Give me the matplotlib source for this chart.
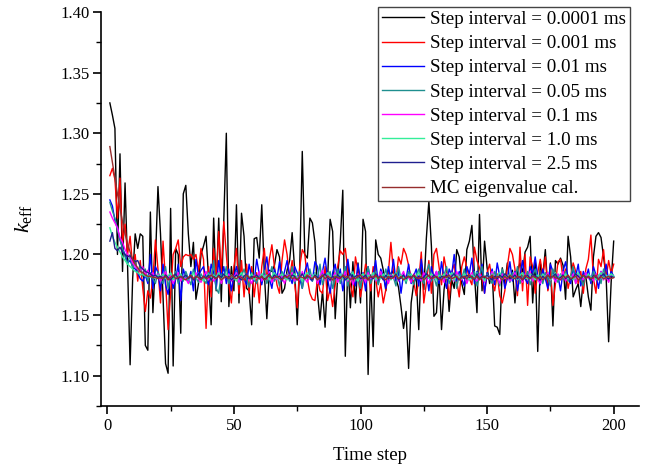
import numpy as np
import matplotlib
matplotlib.use('Agg')
import matplotlib.pyplot as plt
from matplotlib.ticker import MultipleLocator, FormatStrFormatter

plt.rcParams['font.family'] = ['Liberation Serif', 'DejaVu Serif']
plt.rcParams['mathtext.fontset'] = 'custom'
plt.rcParams['mathtext.rm'] = 'Liberation Serif'
plt.rcParams['mathtext.it'] = 'Liberation Serif:italic'

steps = np.arange(1, 201)

# k_eff values, in units of 1e-3
k_0001 = [1325, 1315, 1304, 1200, 1283, 1186, 1259, 1190, 1109, 1180,
          1217, 1205, 1217, 1215, 1125, 1121, 1235, 1152, 1195, 1256,
          1217, 1165, 1110, 1102, 1238, 1108, 1205, 1200, 1135, 1250,
          1257, 1217, 1190, 1210, 1163, 1176, 1200, 1207, 1215, 1180,
          1142, 1230, 1170, 1230, 1161, 1228, 1300, 1157, 1190, 1170,
          1241, 1160, 1234, 1215, 1172, 1170, 1142, 1213, 1214, 1197,
          1241, 1185, 1147, 1187, 1186, 1191, 1204, 1198, 1168, 1172,
          1187, 1195, 1218, 1187, 1142, 1190, 1285, 1200, 1197, 1230,
          1226, 1210, 1168, 1146, 1170, 1140, 1180, 1229, 1219, 1147,
          1182, 1210, 1253, 1116, 1193, 1156, 1194, 1160, 1193, 1160,
          1229, 1219, 1101, 1183, 1124, 1212, 1200, 1197, 1187, 1170,
          1187, 1183, 1187, 1180, 1173, 1157, 1139, 1153, 1106, 1160,
          1176, 1182, 1138, 1193, 1171, 1213, 1244, 1207, 1149, 1152,
          1186, 1138, 1171, 1186, 1153, 1179, 1172, 1204, 1198, 1176,
          1167, 1204, 1211, 1224, 1183, 1152, 1233, 1170, 1211, 1189,
          1176, 1186, 1141, 1140, 1134, 1189, 1176, 1193, 1178, 1187,
          1160, 1186, 1193, 1185, 1202, 1206, 1215, 1160, 1195, 1120,
          1193, 1182, 1204, 1171, 1193, 1141, 1195, 1192, 1197, 1191,
          1163, 1215, 1198, 1165, 1171, 1176, 1157, 1179, 1182, 1165,
          1154, 1198, 1215, 1218, 1214, 1198, 1182, 1128, 1177, 1211]

k_001 = [1265, 1271, 1262, 1230, 1263, 1210, 1225, 1200, 1215, 1190,
         1200, 1178, 1195, 1172, 1153, 1170, 1164, 1180, 1212, 1188,
         1160, 1211, 1178, 1138, 1168, 1200, 1205, 1212, 1190, 1198,
         1200, 1199, 1200, 1196, 1200, 1186, 1205, 1196, 1139, 1190,
         1165, 1205, 1180, 1219, 1185, 1227, 1200, 1175, 1160, 1190,
         1205, 1168, 1195, 1165, 1192, 1168, 1190, 1165, 1185, 1160,
         1190, 1205, 1178, 1196, 1208, 1190, 1175, 1168, 1195, 1212,
         1200, 1180, 1195, 1176, 1156, 1190, 1204, 1200, 1180, 1168,
         1163, 1162, 1180, 1170, 1168, 1190, 1162, 1172, 1157, 1175,
         1190, 1203, 1200, 1205, 1186, 1175, 1165, 1198, 1186, 1165,
         1178, 1192, 1187, 1170, 1190, 1180, 1165, 1176, 1160, 1171,
         1185, 1210, 1186, 1178, 1198, 1192, 1205, 1200, 1191, 1180,
         1178, 1166, 1178, 1202, 1160, 1176, 1195, 1168, 1200, 1205,
         1190, 1175, 1198, 1186, 1163, 1185, 1192, 1178, 1165, 1190,
         1198, 1189, 1180, 1175, 1206, 1195, 1189, 1180, 1168, 1185,
         1192, 1178, 1170, 1184, 1166, 1160, 1170, 1190, 1205, 1200,
         1188, 1166, 1206, 1170, 1200, 1158, 1198, 1190, 1168, 1185,
         1196, 1182, 1198, 1170, 1188, 1158, 1176, 1194, 1196, 1180,
         1188, 1172, 1182, 1193, 1186, 1176, 1186, 1168, 1188, 1196,
         1216, 1180, 1168, 1196, 1190, 1204, 1180, 1195, 1184, 1192]

k_01 = [1245, 1240, 1228, 1222, 1212, 1205, 1200, 1193, 1195, 1190,
        1188, 1185, 1180, 1178, 1183, 1176, 1200, 1172, 1190, 1185,
        1170, 1192, 1175, 1167, 1185, 1172, 1180, 1192, 1162, 1188,
        1181, 1178, 1186, 1170, 1196, 1182, 1187, 1190, 1180, 1175,
        1192, 1185, 1172, 1195, 1180, 1190, 1176, 1188, 1170, 1182,
        1190, 1178, 1185, 1180, 1175, 1192, 1181, 1178, 1196, 1184,
        1175, 1186, 1198, 1180, 1172, 1188, 1180, 1194, 1178, 1186,
        1195, 1182, 1176, 1190, 1185, 1180, 1172, 1186, 1193, 1180,
        1178, 1194, 1190, 1175, 1186, 1197, 1180, 1168, 1185, 1192,
        1178, 1188, 1170, 1182, 1196, 1180, 1186, 1174, 1192, 1180,
        1185, 1170, 1190, 1178, 1183, 1195, 1176, 1188, 1182, 1172,
        1190, 1180, 1196, 1178, 1186, 1168, 1184, 1180, 1192, 1176,
        1182, 1188, 1174, 1196, 1180, 1185, 1170, 1190, 1181, 1186,
        1176, 1194, 1180, 1172, 1188, 1183, 1200, 1178, 1186, 1180,
        1174, 1190, 1184, 1197, 1176, 1186, 1180, 1192, 1168, 1185,
        1180, 1188, 1175, 1193, 1182, 1186, 1172, 1180, 1194, 1178,
        1186, 1170, 1183, 1195, 1180, 1176, 1190, 1184, 1198, 1182,
        1175, 1188, 1180, 1172, 1192, 1186, 1178, 1183, 1170, 1186,
        1194, 1180, 1176, 1188, 1182, 1192, 1174, 1186, 1180, 1188,
        1176, 1190, 1183, 1172, 1186, 1180, 1192, 1178, 1186, 1182]

k_05 = [1243, 1236, 1230, 1220, 1213, 1205, 1198, 1192, 1200, 1188,
        1195, 1186, 1190, 1182, 1188, 1178, 1185, 1180, 1176, 1186,
        1180, 1176, 1190, 1172, 1184, 1180, 1186, 1176, 1182, 1178,
        1186, 1180, 1175, 1188, 1181, 1177, 1184, 1180, 1176, 1185,
        1178, 1195, 1172, 1168, 1184, 1180, 1190, 1176, 1183, 1179,
        1186, 1175, 1182, 1188, 1180, 1173, 1185, 1180, 1176, 1184,
        1180, 1187, 1176, 1182, 1190, 1178, 1183, 1174, 1186, 1180,
        1184, 1178, 1190, 1176, 1182, 1186, 1172, 1183, 1180, 1188,
        1178, 1185, 1180, 1192, 1175, 1183, 1180, 1186, 1172, 1180,
        1188, 1176, 1183, 1190, 1174, 1182, 1186, 1178, 1181, 1172,
        1184, 1180, 1190, 1176, 1182, 1186, 1175, 1183, 1180, 1188,
        1178, 1184, 1181, 1174, 1190, 1180, 1183, 1176, 1186, 1180,
        1175, 1183, 1188, 1180, 1176, 1185, 1192, 1178, 1182, 1174,
        1186, 1180, 1183, 1190, 1176, 1181, 1185, 1172, 1184, 1180,
        1188, 1177, 1183, 1180, 1186, 1174, 1182, 1190, 1178, 1184,
        1180, 1176, 1186, 1181, 1174, 1188, 1180, 1183, 1177, 1185,
        1180, 1190, 1176, 1183, 1180, 1186, 1175, 1182, 1188, 1179,
        1183, 1176, 1185, 1180, 1174, 1188, 1181, 1177, 1184, 1180,
        1186, 1178, 1182, 1190, 1176, 1183, 1180, 1174, 1185, 1181,
        1178, 1186, 1180, 1183, 1176, 1188, 1181, 1179, 1184, 1182]

k_1 = [1235, 1230, 1226, 1222, 1214, 1210, 1204, 1200, 1198, 1193,
       1190, 1188, 1186, 1190, 1183, 1187, 1182, 1185, 1180, 1184,
       1178, 1182, 1186, 1179, 1183, 1176, 1181, 1185, 1178, 1182,
       1180, 1176, 1183, 1179, 1185, 1180, 1177, 1182, 1186, 1179,
       1183, 1178, 1181, 1186, 1176, 1182, 1180, 1184, 1178, 1181,
       1185, 1177, 1182, 1179, 1184, 1180, 1176, 1183, 1180, 1186,
       1178, 1183, 1180, 1186, 1177, 1182, 1179, 1184, 1181, 1176,
       1183, 1180, 1185, 1178, 1182, 1179, 1186, 1180, 1177, 1183,
       1180, 1184, 1176, 1182, 1187, 1179, 1183, 1178, 1181, 1185,
       1177, 1182, 1180, 1186, 1178, 1183, 1175, 1181, 1184, 1179,
       1182, 1177, 1185, 1180, 1183, 1178, 1181, 1186, 1179, 1182,
       1176, 1183, 1180, 1184, 1178, 1182, 1186, 1179, 1181, 1177,
       1184, 1180, 1182, 1178, 1185, 1181, 1176, 1183, 1180, 1186,
       1179, 1182, 1177, 1184, 1180, 1183, 1178, 1186, 1181, 1179,
       1183, 1176, 1182, 1185, 1180, 1178, 1184, 1181, 1177, 1183,
       1180, 1186, 1179, 1182, 1176, 1184, 1180, 1183, 1178, 1181,
       1185, 1179, 1182, 1177, 1184, 1180, 1186, 1178, 1182, 1180,
       1176, 1183, 1181, 1185, 1179, 1182, 1177, 1184, 1180, 1186,
       1178, 1182, 1180, 1184, 1176, 1183, 1181, 1179, 1185, 1180,
       1182, 1178, 1184, 1180, 1186, 1179, 1182, 1177, 1183, 1181]

k_10 = [1222, 1215, 1210, 1206, 1202, 1198, 1195, 1192, 1190, 1188,
        1186, 1185, 1183, 1184, 1182, 1183, 1181, 1182, 1180, 1183,
        1181, 1184, 1180, 1182, 1185, 1179, 1182, 1181, 1184, 1180,
        1183, 1179, 1182, 1185, 1180, 1183, 1181, 1178, 1182, 1184,
        1180, 1183, 1181, 1185, 1179, 1182, 1184, 1180, 1183, 1181,
        1178, 1182, 1185, 1180, 1183, 1181, 1184, 1179, 1182, 1180,
        1184, 1181, 1183, 1179, 1182, 1185, 1180, 1182, 1184, 1181,
        1179, 1183, 1181, 1184, 1180, 1182, 1178, 1183, 1185, 1180,
        1182, 1184, 1179, 1181, 1183, 1180, 1185, 1182, 1179, 1183,
        1181, 1184, 1180, 1182, 1179, 1183, 1185, 1181, 1178, 1182,
        1184, 1180, 1183, 1181, 1185, 1179, 1182, 1180, 1184, 1181,
        1183, 1179, 1182, 1185, 1180, 1183, 1181, 1178, 1182, 1184,
        1180, 1182, 1185, 1181, 1179, 1183, 1180, 1184, 1182, 1179,
        1183, 1181, 1184, 1180, 1182, 1185, 1179, 1183, 1181, 1180,
        1184, 1182, 1179, 1183, 1181, 1185, 1180, 1182, 1178, 1183,
        1181, 1184, 1180, 1182, 1185, 1179, 1183, 1181, 1184, 1180,
        1182, 1179, 1183, 1185, 1181, 1180, 1184, 1182, 1179, 1183,
        1180, 1184, 1181, 1183, 1179, 1182, 1185, 1180, 1183, 1181,
        1184, 1180, 1182, 1179, 1183, 1185, 1181, 1182, 1180, 1184,
        1181, 1183, 1179, 1182, 1185, 1180, 1183, 1181, 1184, 1182]

k_25 = [1211, 1218, 1205, 1203, 1206, 1202, 1200, 1198, 1199, 1196,
        1194, 1195, 1190, 1188, 1186, 1185, 1184, 1182, 1183, 1181,
        1182, 1180, 1183, 1181, 1179, 1182, 1184, 1180, 1182, 1181,
        1183, 1180, 1182, 1179, 1181, 1184, 1180, 1182, 1181, 1183,
        1179, 1182, 1180, 1183, 1181, 1184, 1180, 1182, 1179, 1181,
        1183, 1181, 1179, 1182, 1184, 1180, 1182, 1181, 1183, 1180,
        1182, 1179, 1181, 1184, 1180, 1183, 1181, 1182, 1179, 1183,
        1181, 1180, 1183, 1182, 1179, 1181, 1184, 1180, 1182, 1181,
        1179, 1183, 1181, 1180, 1182, 1184, 1181, 1179, 1182, 1180,
        1183, 1181, 1182, 1179, 1181, 1184, 1180, 1182, 1183, 1180,
        1181, 1183, 1179, 1182, 1180, 1184, 1181, 1182, 1179, 1183,
        1180, 1182, 1181, 1184, 1179, 1181, 1183, 1180, 1182, 1181,
        1183, 1179, 1182, 1180, 1181, 1184, 1182, 1180, 1183, 1181,
        1179, 1182, 1181, 1183, 1180, 1182, 1184, 1181, 1179, 1182,
        1180, 1183, 1181, 1182, 1179, 1184, 1180, 1182, 1181, 1183,
        1181, 1179, 1182, 1180, 1183, 1181, 1184, 1182, 1180, 1181,
        1183, 1180, 1182, 1179, 1181, 1183, 1180, 1184, 1182, 1181,
        1179, 1182, 1180, 1183, 1181, 1182, 1184, 1180, 1181, 1183,
        1180, 1182, 1179, 1181, 1184, 1182, 1180, 1183, 1181, 1182,
        1179, 1183, 1181, 1180, 1182, 1184, 1181, 1180, 1182, 1181]

k_mc = [1289, 1276, 1263, 1250, 1238, 1227, 1217, 1209, 1202, 1196,
        1192, 1189, 1186, 1185, 1183, 1182, 1182, 1181, 1181, 1180,
        1181, 1180, 1182, 1179, 1181, 1183, 1180, 1181, 1182, 1180,
        1179, 1181, 1183, 1180, 1182, 1181, 1179, 1182, 1180, 1181,
        1183, 1181, 1180, 1182, 1179, 1181, 1182, 1180, 1183, 1181,
        1180, 1182, 1181, 1179, 1183, 1181, 1180, 1182, 1181, 1180,
        1182, 1179, 1181, 1183, 1180, 1181, 1182, 1180, 1179, 1182,
        1181, 1183, 1180, 1181, 1179, 1182, 1181, 1180, 1183, 1181,
        1180, 1182, 1179, 1181, 1183, 1180, 1182, 1181, 1179, 1182,
        1181, 1180, 1183, 1181, 1182, 1179, 1181, 1180, 1182, 1183,
        1180, 1181, 1179, 1182, 1181, 1183, 1180, 1182, 1181, 1179,
        1182, 1180, 1181, 1183, 1180, 1182, 1179, 1181, 1182, 1180,
        1183, 1181, 1180, 1182, 1179, 1181, 1183, 1180, 1181, 1182,
        1180, 1179, 1182, 1181, 1183, 1180, 1181, 1182, 1179, 1181,
        1182, 1180, 1183, 1181, 1180, 1182, 1179, 1181, 1182, 1180,
        1181, 1183, 1180, 1182, 1181, 1179, 1182, 1180, 1183, 1181,
        1180, 1182, 1181, 1179, 1183, 1181, 1180, 1182, 1181, 1180,
        1182, 1179, 1181, 1183, 1180, 1182, 1181, 1180, 1179, 1182,
        1181, 1183, 1180, 1181, 1182, 1179, 1181, 1183, 1180, 1182,
        1180, 1181, 1183, 1179, 1182, 1180, 1181, 1182, 1180, 1181]

series = [
    (k_0001, '#000000', 'Step interval = 0.0001 ms'),
    (k_001, '#ff0000', 'Step interval = 0.001 ms'),
    (k_01, '#0000ff', 'Step interval = 0.01 ms'),
    (k_05, '#1f8f8f', 'Step interval = 0.05 ms'),
    (k_1, '#ff00ff', 'Step interval = 0.1 ms'),
    (k_10, '#33ee99', 'Step interval = 1.0 ms'),
    (k_25, '#1f1f8f', 'Step interval = 2.5 ms'),
    (k_mc, '#962d2d', 'MC eigenvalue cal.'),
]

fig = plt.figure(figsize=(6.48, 4.68), dpi=100)
ax = fig.add_axes([101 / 648, 1 - 406 / 468, 538 / 648, 394 / 468])

for vals, col, lab in series:
    ax.plot(steps, np.array(vals) / 1000.0, color=col, lw=1.0, label=lab)

ax.set_xlim(-2.5, 210)
ax.set_ylim(1.075, 1.40)
ax.xaxis.set_major_locator(MultipleLocator(50))
ax.xaxis.set_minor_locator(MultipleLocator(25))
ax.yaxis.set_major_locator(MultipleLocator(0.05))
ax.yaxis.set_minor_locator(MultipleLocator(0.025))
ax.yaxis.set_major_formatter(FormatStrFormatter('%.2f'))

for s in ['top', 'right']:
    ax.spines[s].set_visible(False)
for s in ['left', 'bottom']:
    ax.spines[s].set_linewidth(1.2)
ax.tick_params(which='major', direction='out', length=5.5, width=1.2, labelsize=12)
ax.tick_params(axis='y', which='major', pad=2.5)
ax.tick_params(which='minor', direction='out', length=3.5, width=1.0)

ax.set_xlabel('Time step', fontsize=13.5, labelpad=9)
ax.set_ylabel('$k_{\\mathrm{eff}}$', fontsize=16)
ax.yaxis.set_label_coords(-0.125, 0.475)

leg = ax.legend(loc='upper right', bbox_to_anchor=(630 / 648, 1 - 7 / 468),
                bbox_transform=fig.transFigure, borderaxespad=0,
                fontsize=13.7, frameon=True, fancybox=False, framealpha=1,
                edgecolor='#444444', handlelength=2.2, handletextpad=0.32,
                labelspacing=0.36, borderpad=0.2)
leg.get_frame().set_linewidth(1.0)
for ln in leg.get_lines():
    ln.set_linewidth(1.0)

fig.savefig('out.png', dpi=100)
